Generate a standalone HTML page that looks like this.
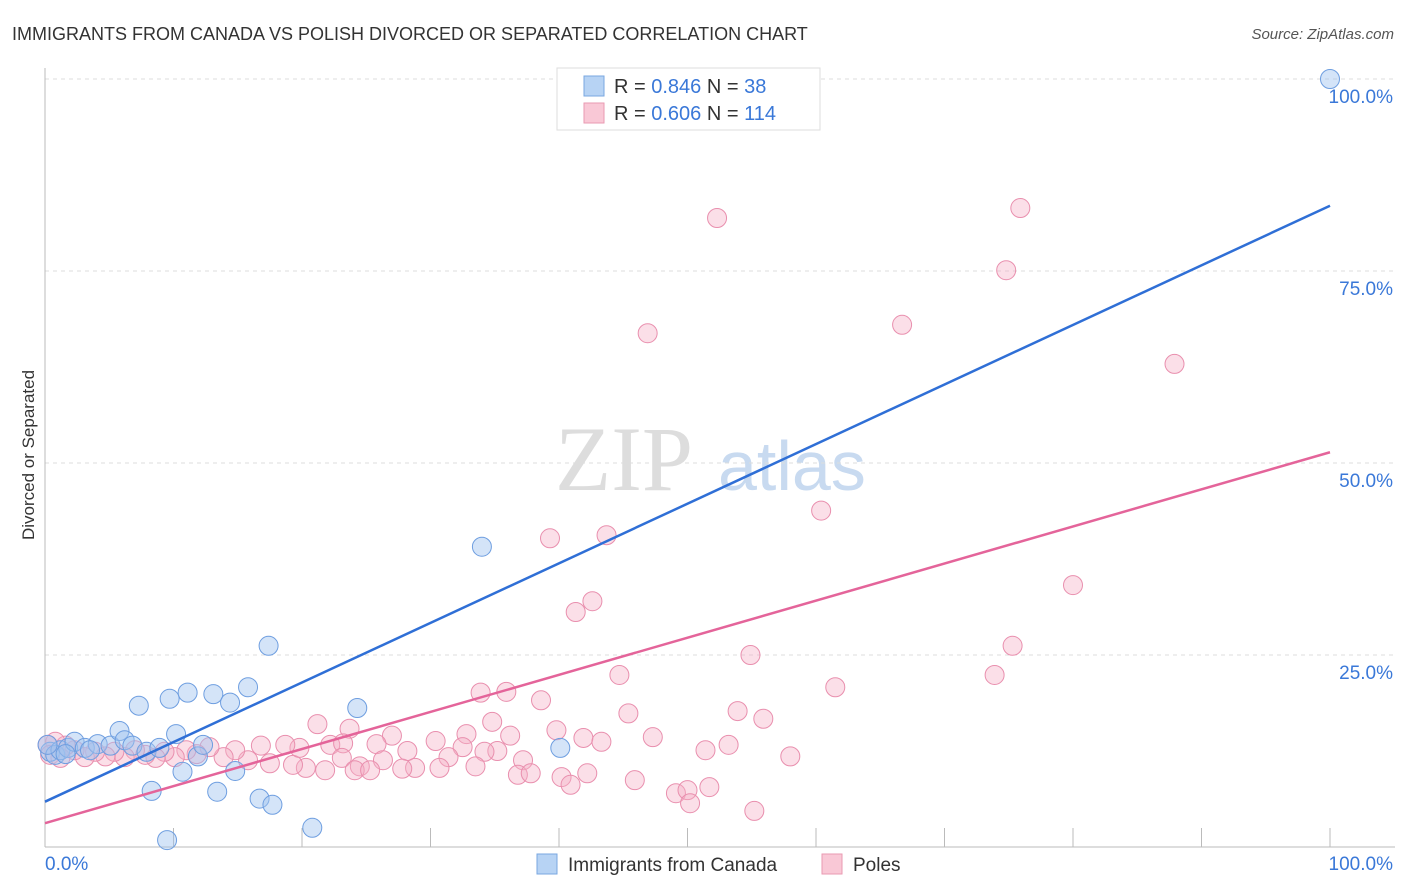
<!DOCTYPE html>
<html><head><meta charset="utf-8"><style>
body{margin:0;background:#fff;font-family:"Liberation Sans",sans-serif;}
#c{position:relative;width:1406px;height:892px;overflow:hidden;}
</style></head><body>
<div id="c">
<svg id="s" width="1406" height="892" xmlns="http://www.w3.org/2000/svg" font-family="Liberation Sans, sans-serif">
<text x="12" y="40" font-size="18" fill="#333">IMMIGRANTS FROM CANADA VS POLISH DIVORCED OR SEPARATED CORRELATION CHART</text>
<text x="1394" y="39" font-size="15" fill="#555" font-style="italic" text-anchor="end">Source: ZipAtlas.com</text>
<text x="34" y="455" font-size="17" fill="#333" text-anchor="middle" transform="rotate(-90 34 455)">Divorced or Separated</text>
<g><text x="555" y="490" font-size="92" fill="#ddd" font-family="Liberation Serif, serif">ZIP</text><text x="718" y="490" font-size="70" fill="#c8daf0">atlas</text></g>
<g id="grid"></g><g id="axes"></g><g id="pts"></g><g id="lines"></g>
<g>
<rect x="557" y="68" width="263" height="62" fill="#fff" stroke="#ddd"/>
<rect x="584" y="76" width="20" height="20" fill="#b7d3f4" stroke="#7aa7e0"/>
<rect x="584" y="103" width="20" height="20" fill="#f9c8d6" stroke="#e99ab2"/>
<text x="614" y="93" font-size="20" fill="#333">R = <tspan fill="#3a78d8">0.846</tspan>   N =  <tspan fill="#3a78d8">38</tspan></text>
<text x="614" y="120" font-size="20" fill="#333">R = <tspan fill="#3a78d8">0.606</tspan>   N = <tspan fill="#3a78d8">114</tspan></text>
</g>
<g>
<rect x="537" y="854" width="20" height="20" fill="#b7d3f4" stroke="#7aa7e0"/>
<text x="568" y="871" font-size="19" fill="#333">Immigrants from Canada</text>
<rect x="822" y="854" width="20" height="20" fill="#f9c8d6" stroke="#e99ab2"/>
<text x="853" y="871" font-size="19" fill="#333">Poles</text>
</g>
</svg>
</div>
<script>
const yTicks=[25,50,75,100];
const yTickLabels=["25.0%","50.0%","75.0%","100.0%"];
const xTickLabels=["0.0%","100.0%"];
const blueX=[0.4,0.8,1.2,1.8,2.3,3.1,4.1,5.1,5.8,6.2,6.8,7.3,7.9,8.3,8.9,9.7,10.2,10.7,11.1,11.9,12.3,13.1,13.4,14.4,14.8,15.8,16.7,17.4,17.7,20.8,24.3,34.0,40.1,9.5,100,3.5,1.6,0.2];
const blueY=[12.4,12.0,12.6,12.9,13.7,12.9,13.4,13.2,15.1,13.9,13.2,18.4,12.4,7.3,12.9,19.3,14.7,9.8,20.1,11.8,13.3,19.9,7.2,18.8,9.9,20.8,6.3,26.2,5.5,2.5,18.1,39.1,12.9,0.9,100,12.6,12.1,13.3];
const pinkX=[52.3,75.9,74.8,46.9,66.7,87.9,60.4,39.3,43.7,80.0,42.6,41.3,75.3,54.9,73.9,44.7,61.5,33.9,35.9,38.6,45.4,53.9,55.9,34.8,21.2,23.7,39.8,32.8,41.9,47.3,27.0,36.2,43.3,53.2,30.4,32.5,25.8,51.4,35.2,34.2,58.0,28.2,31.4,37.2,26.3,24.5,33.5,30.7,28.8,27.8,36.8,37.8,40.2,42.2,45.9,40.9,49.1,50.0,51.7,50.2,55.2,21.8,20.3,19.3,19.8,18.7,17.5,16.8,22.2,23.2,23.1,24.1,25.3,15.8,14.8,13.9,12.8,11.8,11.0,10.1,9.3,8.6,7.8,7.0,6.2,5.4,4.7,3.9,3.1,2.3,1.6,0.8,0.2,0.4,1.2];
const pinkY=[81.9,83.2,75.1,66.9,68.0,62.9,43.8,40.2,40.6,34.1,32.0,30.6,26.2,25.0,22.4,22.4,20.8,20.1,20.2,19.1,17.4,17.7,16.7,16.3,16.0,15.4,15.2,14.7,14.2,14.3,14.5,14.5,13.7,13.3,13.8,13.0,13.4,12.6,12.5,12.4,11.8,12.5,11.7,11.3,11.3,10.5,10.5,10.3,10.3,10.2,9.4,9.6,9.1,9.6,8.7,8.1,7.0,7.4,7.8,5.7,4.7,10.0,10.3,10.7,12.9,13.3,10.9,13.2,13.3,13.5,11.6,10.0,10.0,11.3,12.6,11.7,13.0,12.1,12.6,11.7,12.4,11.6,12.0,12.6,11.7,12.4,11.8,12.4,11.7,12.6,13.2,13.7,13.3,12.0,11.6];
const blueLine=[5.9,83.5];
const pinkLine=[3.1,51.4];
const NS="http://www.w3.org/2000/svg";
const X=v=>45+v*12.85, Y=v=>847-v*7.68;
function mk(tag,attrs,parent){const e=document.createElementNS(NS,tag);for(const k in attrs)e.setAttribute(k,attrs[k]);document.getElementById(parent).appendChild(e);return e;}
yTicks.forEach((t,i)=>{
 const g=mk('line',{x1:45,x2:1395,y1:Y(t),y2:Y(t),stroke:'#ddd','stroke-dasharray':'4,4'},'grid');
 
 
 const l=mk('text',{x:1393,y:Y(t)+24,'font-size':19,fill:'#3a78d8','text-anchor':'end'},'axes');l.textContent=yTickLabels[i];
 
 
});
const ax=mk('line',{x1:45,x2:45,y1:68,y2:847,stroke:'#bbb'},'axes');


const bx=mk('line',{x1:45,x2:1395,y1:847,y2:847,stroke:'#bbb'},'axes');


for(let i=0;i<=10;i++){const t=mk('line',{x1:X(i*10),x2:X(i*10),y1:828,y2:847,stroke:'#bbb'},'axes');
 
 }
[[0,'start',45],[100,'end',1393]].forEach((a,i)=>{const l=mk('text',{x:a[2],y:870,'font-size':19,fill:'#3a78d8','text-anchor':a[1]},'axes');l.textContent=xTickLabels[i];
 
 });
pinkX.forEach((x,i)=>{const c=mk('circle',{cx:X(x),cy:Y(pinkY[i]),r:9.5,fill:'rgba(246,175,198,0.4)',stroke:'#e98fae','stroke-width':1},'pts');
 
 });
blueX.forEach((x,i)=>{const c=mk('circle',{cx:X(x),cy:Y(blueY[i]),r:9.5,fill:'rgba(160,195,240,0.45)',stroke:'#6e9ee0','stroke-width':1},'pts');
 
 });
const bl=mk('line',{x1:X(0),y1:Y(blueLine[0]),x2:X(100),y2:Y(blueLine[1]),stroke:'#2f6fd6','stroke-width':2.5},'lines');


const pl=mk('line',{x1:X(0),y1:Y(pinkLine[0]),x2:X(100),y2:Y(pinkLine[1]),stroke:'#e4649a','stroke-width':2.5},'lines');


</script>
</body></html>
